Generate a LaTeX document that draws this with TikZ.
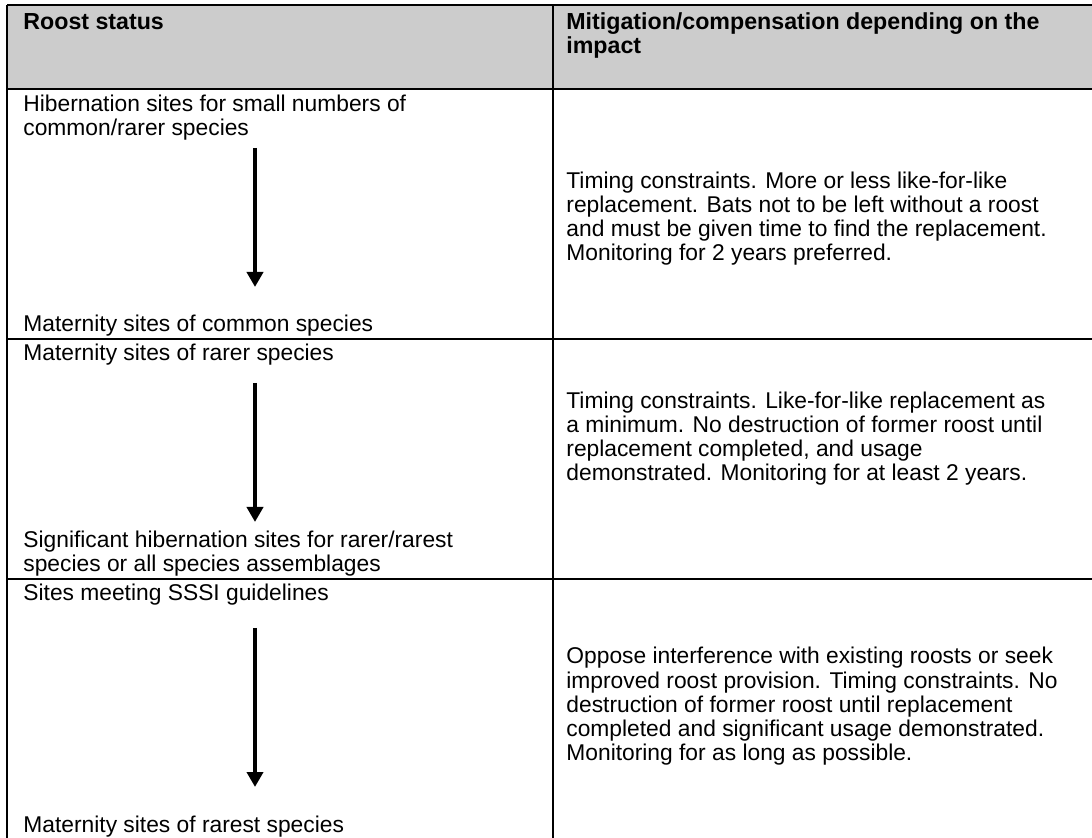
\documentclass[tikz,border=0pt]{standalone}
\usepackage{fontspec}
\setmainfont{Liberation Sans}
\usetikzlibrary{arrows.meta}
\definecolor{hdrfill}{RGB}{204,204,204}
\begin{document}
\begin{tikzpicture}[x=0.5pt,y=-0.5pt,
  txt/.style={anchor=base west,inner sep=0pt,font=\fontsize{11.4}{12.15}\selectfont},
  hdr/.style={anchor=base west,inner sep=0pt,font=\fontsize{11.6}{12.15}\selectfont\bfseries},
  rulel/.style={line width=1.25pt},
  flow/.style={line width=2pt,-{Triangle[length=7.5pt,width=8pt]}}]
\useasboundingbox (0,0) rectangle (1092,838);
% header fill
\fill[hdrfill] (7,5) rectangle (1092,89);
% grid lines
\draw[rulel] (7,5) -- (1092,5);
\draw[rulel] (7,5) -- (7,838);
\draw[rulel] (553,5) -- (553,838);
\draw[rulel] (7,89) -- (1092,89);
\draw[rulel] (7,339) -- (1092,339);
\draw[rulel] (7,579) -- (1092,579);
% header
\node[hdr] (h1) at (23,30) {Roost status};
\node[hdr] (h2) at (566,30) {Mitigation/compensation depending on the};
\node[hdr] (h3) at (566,54) {impact};
% left column
\node[txt] (a1) at (23,112) {Hibernation sites for small numbers of};
\node[txt] (a2) at (23,136) {common/rarer species};
\node[txt] (a3) at (23,332) {Maternity sites of common species};
\node[txt] (b1) at (23,361) {Maternity sites of rarer species};
\node[txt] (b2) at (23,548) {Significant hibernation sites for rarer/rarest};
\node[txt] (b3) at (23,572) {species or all species assemblages};
\node[txt] (c1) at (23,601) {Sites meeting SSSI guidelines};
\node[txt] (c2) at (23,832) {Maternity sites of rarest species};
% arrows
\coordinate (p1s) at (255,148); \coordinate (p1e) at (255,287);
\coordinate (p2s) at (255,383); \coordinate (p2e) at (255,522);
\coordinate (p3s) at (255,628); \coordinate (p3e) at (255,787);
\draw[flow] (p1s) -- (p1e);
\draw[flow] (p2s) -- (p2e);
\draw[flow] (p3s) -- (p3e);
% right column
\node[txt] (r1a) at (566,189) {Timing constraints. More or less like-for-like};
\node[txt] (r1b) at (566,213) {replacement. Bats not to be left without a roost};
\node[txt] (r1c) at (566,237) {and must be given time to find the replacement.};
\node[txt] (r1d) at (566,261) {Monitoring for 2 years preferred.};
\node[txt] (r2a) at (566,409) {Timing constraints. Like-for-like replacement as};
\node[txt] (r2b) at (566,433) {a minimum. No destruction of former roost until};
\node[txt] (r2c) at (566,457) {replacement completed, and usage};
\node[txt] (r2d) at (566,481) {demonstrated. Monitoring for at least 2 years.};
\node[txt] (r3a) at (566,664) {Oppose interference with existing roosts or seek};
\node[txt] (r3b) at (566,689) {improved roost provision. Timing constraints. No};
\node[txt] (r3c) at (566,713) {destruction of former roost until replacement};
\node[txt] (r3d) at (566,737) {completed and significant usage demonstrated.};
\node[txt] (r3e) at (566,761) {Monitoring for as long as possible.};
\end{tikzpicture}
\end{document}
